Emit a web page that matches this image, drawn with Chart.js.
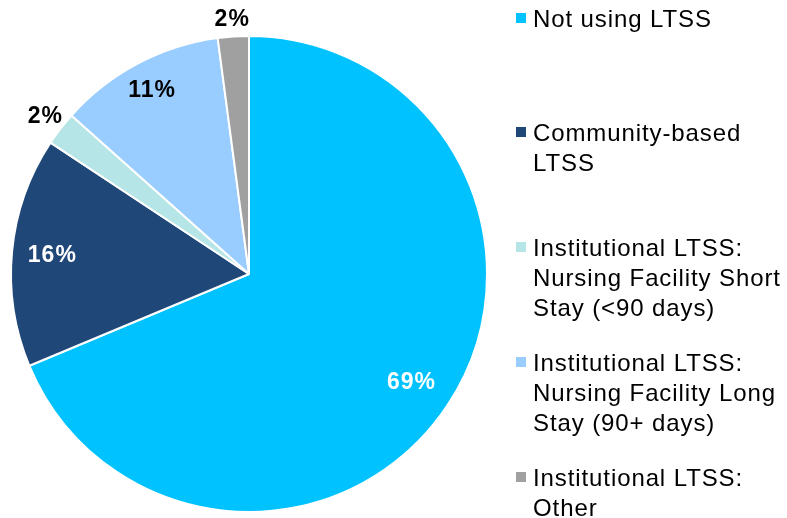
<!DOCTYPE html>
<html><head><meta charset="utf-8">
<script src="https://cdn.jsdelivr.net/npm/chart.js@4.4.0/dist/chart.umd.min.js"></script>
<style>
html,body{margin:0;padding:0;background:#fff;width:787px;height:518px;overflow:hidden;font-family:"Liberation Sans",Arial,sans-serif;}
#wrap{position:absolute;left:0;top:0;width:498px;height:518px;}
#legend{position:absolute;left:0;top:0;width:787px;height:518px;}
.item{position:absolute;left:533px;font-size:24px;line-height:30px;letter-spacing:0.9px;color:#000;white-space:nowrap;}
.sw{position:absolute;left:-17px;top:9px;width:10px;height:10px;}
</style></head><body>
<div id="wrap"><canvas id="c" width="498" height="518"></canvas></div>
<div id="legend"></div>
<script>
// ---- data ----
const categories = [
  "Not using LTSS",
  "Community-based LTSS",
  "Institutional LTSS: Nursing Facility Short Stay (<90 days)",
  "Institutional LTSS: Nursing Facility Long Stay (90+ days)",
  "Institutional LTSS: Other"
];
const legendLines = [
  ["Not using LTSS"],
  ["Community-based", "LTSS"],
  ["Institutional LTSS:", "Nursing Facility Short", "Stay (<90 days)"],
  ["Institutional LTSS:", "Nursing Facility Long", "Stay (90+ days)"],
  ["Institutional LTSS:", "Other"]
];
const values = [68.7, 15.6, 2.3, 11.3, 2.1];
const valueLabels = ["69%", "16%", "2%", "11%", "2%"];

// ---- styles ----
const colors = ["#00C2FF", "#1F4778", "#B5E5E6", "#99CCFF", "#A0A0A0"];
const labelColors = ["#FFFFFF", "#FFFFFF", "#000000", "#000000", "#000000"];
const labelRadius = [0.82, 0.83, 1.08, 0.87, 1.07];
const legendTops = [4, 118, 233, 348, 463];

// legend
const lg = document.getElementById('legend');
legendLines.forEach((lines, i) => {
  const d = document.createElement('div');
  d.className = 'item';
  d.style.top = legendTops[i] + 'px';
  const sw = document.createElement('div');
  sw.className = 'sw';
  sw.style.background = colors[i];
  d.appendChild(sw);
  lines.forEach((t, j) => {
    if (j) d.appendChild(document.createElement('br'));
    d.appendChild(document.createTextNode(t));
  });
  lg.appendChild(d);
});

const labelPlugin = {
  id: 'sliceLabels',
  afterDatasetsDraw(chart) {
    const ctx = chart.ctx;
    const meta = chart.getDatasetMeta(0);
    ctx.save();
    ctx.font = 'bold 23px "Liberation Sans", Arial, sans-serif';
    if ('letterSpacing' in ctx) ctx.letterSpacing = '1px';
    ctx.textAlign = 'center';
    ctx.textBaseline = 'middle';
    meta.data.forEach((arc, i) => {
      const p = arc.getProps(['x', 'y', 'startAngle', 'endAngle', 'outerRadius'], true);
      const mid = (p.startAngle + p.endAngle) / 2;
      const r = p.outerRadius * labelRadius[i];
      ctx.fillStyle = labelColors[i];
      ctx.fillText(valueLabels[i], p.x + Math.cos(mid) * r, p.y + Math.sin(mid) * r);
    });
    ctx.restore();
  }
};

new Chart(document.getElementById('c'), {
  type: 'pie',
  data: {
    labels: categories,
    datasets: [{
      data: values,
      backgroundColor: colors,
      borderColor: '#FFFFFF',
      borderWidth: 2,
      hoverOffset: 0
    }]
  },
  options: {
    responsive: false,
    animation: false,
    radius: 238,
    layout: { padding: { top: 30 } },
    events: [],
    plugins: {
      legend: { display: false },
      tooltip: { enabled: false },
      title: { display: false }
    }
  },
  plugins: [labelPlugin]
});
</script>
</body></html>
